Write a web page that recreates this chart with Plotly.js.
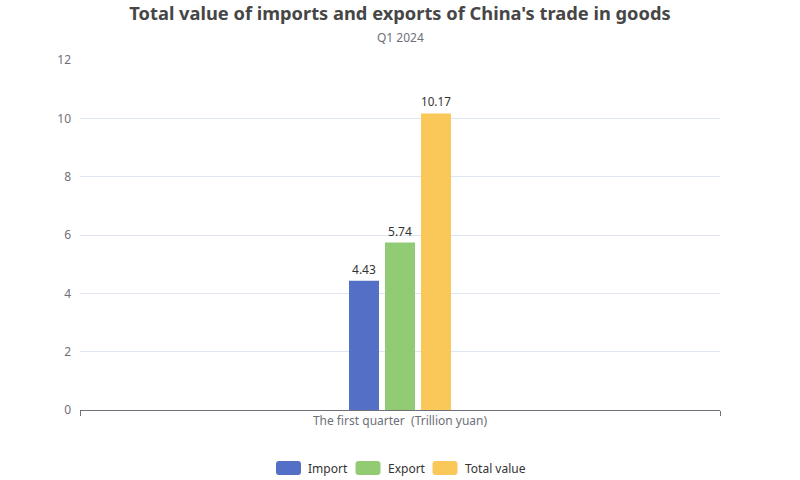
<!DOCTYPE html>
<html>
<head>
<meta charset="utf-8">
<script src="https://cdn.plot.ly/plotly-3.0.1.min.js"></script>
<style>html,body{margin:0;padding:0;background:#fff;}#chart{width:800px;height:480px;}</style>
</head>
<body>
<div id="chart"></div>
<script>
const categories = ["The first quarter\u00a0 (Trillion yuan)"];
const seriesNames = ["Import", "Export", "Total value"];
const importValues = [4.43];
const exportValues = [5.74];
const totalValues = [10.17];
const colors = ["#5470C6", "#91CC75", "#FAC858"];
const yTicks = [0, 2, 4, 6, 8, 10, 12];

const FONT = "'Noto Sans', 'Open Sans', sans-serif";
const seriesValues = [importValues, exportValues, totalValues];

const traces = seriesNames.map((name, i) => ({
  type: "bar",
  name: name,
  x: categories,
  y: seriesValues[i],
  marker: {color: colors[i]},
  text: seriesValues[i].map(v => v.toFixed(2)),
  textposition: "outside",
  textfont: {size: 12, color: "#333", family: FONT},
  cliponaxis: false,
  showlegend: false,
  hoverinfo: "skip"
}));

// Manual legend (rounded swatches + labels) at the bottom
const legendX = [276, 355.5, 432.5];
const shapes = [];
const annotations = [];
const W = 800, H = 480, ml = 80, mr = 80, mt = 60, mb = 70;
const pw = W - ml - mr, ph = H - mt - mb;
function px2x(px){ return (px - ml) / pw; }
function py2y(py){ return (H - mb - py) / ph; }
function roundRectPath(x0, y0, x1, y1, r){
  const X = px2x, Y = py2y;
  const f = (a, b) => X(a).toFixed(5) + "," + Y(b).toFixed(5);
  return "M" + f(x0 + r, y0) +
    " L" + f(x1 - r, y0) +
    " Q" + f(x1, y0) + " " + f(x1, y0 + r) +
    " L" + f(x1, y1 - r) +
    " Q" + f(x1, y1) + " " + f(x1 - r, y1) +
    " L" + f(x0 + r, y1) +
    " Q" + f(x0, y1) + " " + f(x0, y1 - r) +
    " L" + f(x0, y0 + r) +
    " Q" + f(x0, y0) + " " + f(x0 + r, y0) + " Z";
}
seriesNames.forEach((name, i) => {
  const x0 = legendX[i], x1 = x0 + 25, y0 = 461, y1 = 475;
  shapes.push({
    type: "path", xref: "paper", yref: "paper",
    path: roundRectPath(x0, y0, x1, y1, 3),
    fillcolor: colors[i], line: {width: 0}, layer: "above"
  });
  annotations.push({
    xref: "paper", yref: "paper", x: px2x(x1 + 5), y: py2y(468),
    xanchor: "left", yanchor: "middle", showarrow: false,
    text: name, font: {size: 12, color: "#333", family: FONT}
  });
});

annotations.push({
  xref: "paper", yref: "paper", x: 0.5, y: py2y(37), xanchor: "center", yanchor: "middle",
  showarrow: false, text: "Q1 2024", font: {size: 12, color: "#6E7079", family: FONT}
});

const layout = {
  width: W, height: H,
  margin: {l: ml, r: mr, t: mt, b: mb, pad: 0},
  paper_bgcolor: "#fff", plot_bgcolor: "#fff",
  title: {
    text: "<b>Total value of imports and exports of China's trade in goods</b>",
    x: 0.5, xanchor: "center", y: 1 - 14/H, yanchor: "middle", yref: "container",
    font: {size: 18.3, color: "#464646", family: FONT}
  },
  font: {family: FONT, size: 12, color: "#6E7079"},
  barmode: "group",
  bargap: 0.83125,
  bargroupgap: 0.1667,
  showlegend: false,
  xaxis: {
    type: "category",
    tickson: "boundaries",
    ticks: "outside", ticklen: 5, tickcolor: "#6E7079",
    showline: true, linecolor: "#6E7079", linewidth: 1,
    showgrid: false, zeroline: false,
    tickfont: {size: 12, color: "#6E7079", family: FONT},
    fixedrange: true
  },
  yaxis: {
    range: [0, 12],
    tickvals: yTicks,
    ticktext: yTicks.map(String),
    showgrid: true, gridcolor: "#E0E6F1", gridwidth: 1,
    showline: false, zeroline: false, ticks: "",
    ticklabelstandoff: 8,
    tickfont: {size: 12, color: "#6E7079", family: FONT},
    fixedrange: true
  },
  shapes: shapes,
  annotations: annotations
};

Plotly.newPlot("chart", traces, layout, {displayModeBar: false, staticPlot: true});
</script>
</body>
</html>
